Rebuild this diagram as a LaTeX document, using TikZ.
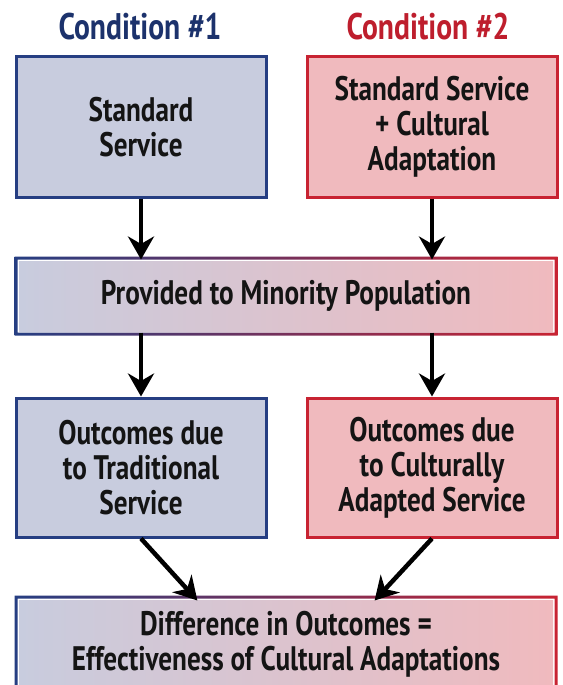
\documentclass[tikz,border=0pt]{standalone}
\usepackage{fontspec}
\setmainfont{PT Sans}[FakeStretch=0.8]
\usepackage{tikz}
\usetikzlibrary{arrows.meta,calc}

\definecolor{blueline}{RGB}{38,62,130}
\definecolor{redline}{RGB}{200,35,50}
\definecolor{bluefill}{RGB}{200,204,222}
\definecolor{redfill}{RGB}{240,186,190}
\definecolor{bluetitle}{RGB}{28,50,108}
\definecolor{redtitle}{RGB}{190,30,45}
\newcommand\boxfont{\bfseries\fontsize{34}{35}\selectfont}

\begin{document}
\begin{tikzpicture}[x=1pt,y=-1pt,
    box/.style={minimum width=250pt,minimum height=140pt,inner sep=0pt,line width=3pt,align=center,font=\boxfont,text=black!92},
    bluebox/.style={box,draw=blueline,fill=bluefill},
    redbox/.style={box,draw=redline,fill=redfill},
    widebox/.style={box,minimum width=534pt,left color=bluefill,right color=redfill},
    title/.style={font=\bfseries\fontsize{37}{38}\selectfont,inner sep=0pt},
    flow/.style={line width=4.5pt,-{Stealth[length=23pt,width=26pt]}}]
            \useasboundingbox (0,0) rectangle (562,685);
            \clip (0,0) rectangle (562,685);
            \fill[white] (0,0) rectangle (562,685);
            % titles
            \node[title,text=bluetitle] (cond1) at (140,27) {Condition \#1};
            \node[title,text=redtitle] (cond2) at (428,27) {Condition \#2};
            % top boxes
            \node[bluebox] (std) at (141,127) {Standard\\Service};
            \node[redbox] (adapt) at (432,127) {Standard Service\\+ Cultural\\Adaptation};
            % shared box
            \node[widebox,minimum height=70pt] (pop) at (286,296) {Provided to Minority Population};
            \shade[even odd rule,left color=blueline,right color=redline]
                ([shift={(-3,-3)}]pop.north west) rectangle ([shift={(3,3)}]pop.south east)
                (pop.north west) rectangle (pop.south east);
            % outcome boxes
            \node[bluebox,minimum height=139pt] (trad) at (141,467.5) {Outcomes due\\to Traditional\\Service};
            \node[redbox,minimum height=139pt] (cult) at (432,467.5) {Outcomes due\\to Culturally\\Adapted Service};
            % bottom box
            \node[widebox,minimum height=88pt] (diff) at (286,644) {Difference in Outcomes =\\Effectiveness of Cultural Adaptations};
            \shade[even odd rule,left color=blueline,right color=redline]
                ([shift={(-3,-3)}]diff.north west) rectangle ([shift={(3,3)}]diff.south east)
                (diff.north west) rectangle (diff.south east);
            % arrows
            \draw[flow] (std.south) -- (std.south |- pop.north);
            \draw[flow] (adapt.south) -- (adapt.south |- pop.north);
            \draw[flow] (std.south |- pop.south) -- (trad.north);
            \draw[flow] (adapt.south |- pop.south) -- (cult.north);
            \coordinate (diffin1) at ($(diff.north west)!.335!(diff.north east)$);
            \coordinate (diffin2) at ($(diff.north west)!.665!(diff.north east)$);
            \draw[flow] (trad.south) -- ([yshift=-2]diffin1);
            \draw[flow] (cult.south) -- ([yshift=-2]diffin2);
        \end{tikzpicture}
\end{document}
